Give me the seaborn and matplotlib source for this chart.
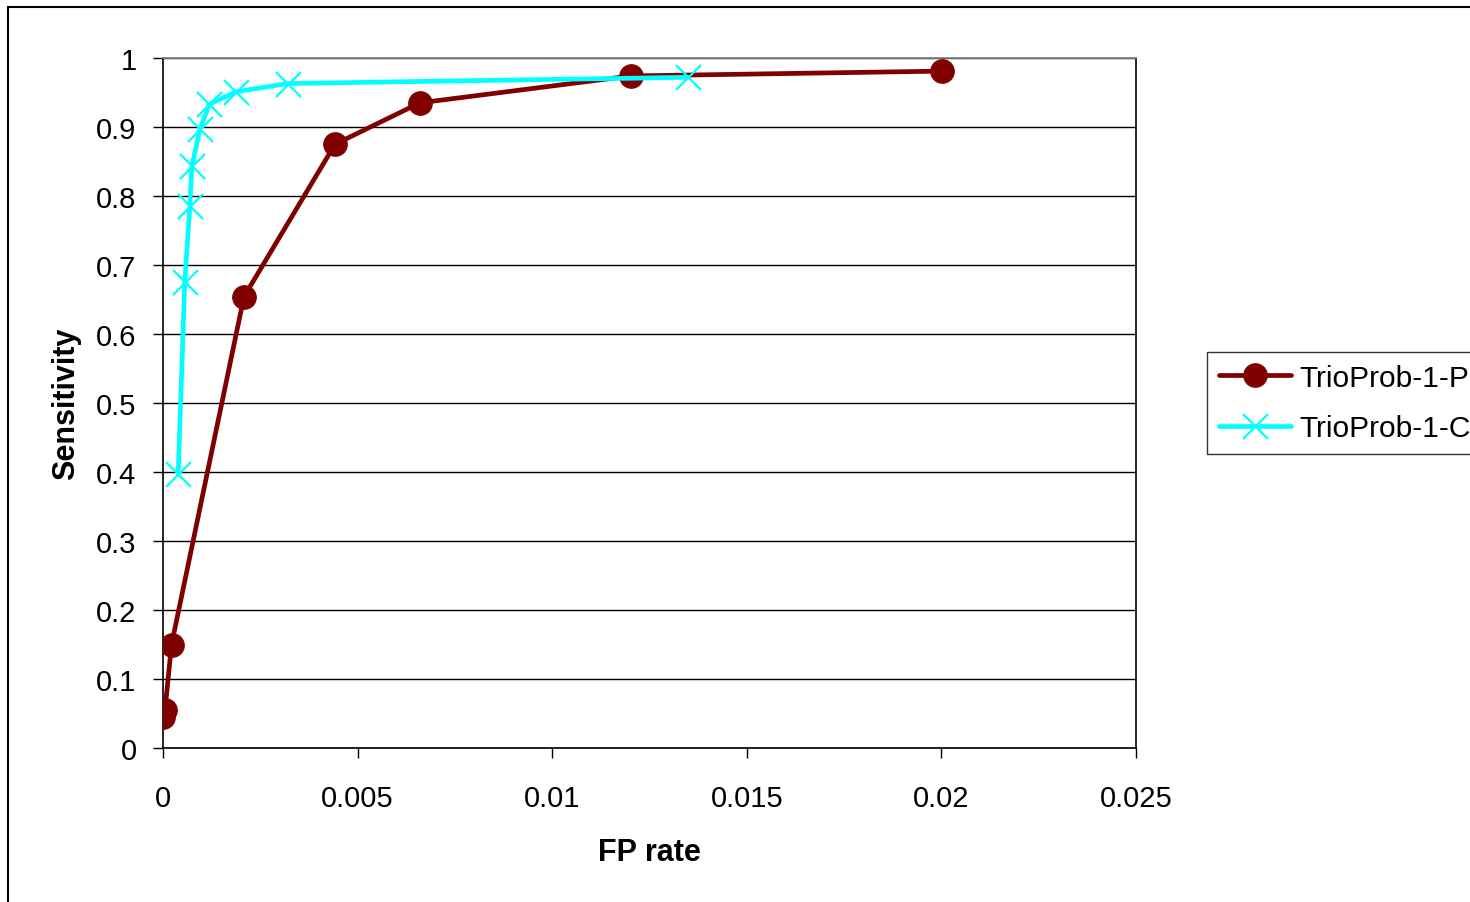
import matplotlib
matplotlib.use("Agg")
import matplotlib.pyplot as plt
import seaborn as sns
from matplotlib.patches import Rectangle
from matplotlib.ticker import FuncFormatter

# Dati (FP rate, Sensitivity)
fp_p = [0.0, 0.00005, 0.00022, 0.00208, 0.00442, 0.0066, 0.01202, 0.02001]
sens_p = [0.045, 0.055, 0.150, 0.654, 0.875, 0.935, 0.974, 0.981]

fp_c = [0.00039, 0.00056, 0.00069, 0.00074, 0.00095, 0.00119, 0.00188, 0.0032, 0.01349]
sens_c = [0.397, 0.676, 0.786, 0.843, 0.897, 0.933, 0.951, 0.963, 0.972]

labels = ["TrioProb-1-P", "TrioProb-1-C"]
colors = ["#800000", "#00FFFF"]
x_ticks = [0, 0.005, 0.01, 0.015, 0.02, 0.025]
y_ticks = [0, 0.1, 0.2, 0.3, 0.4, 0.5, 0.6, 0.7, 0.8, 0.9, 1.0]

sns.set_style("white")
plt.rcParams['font.family'] = ['Liberation Sans', 'DejaVu Sans']
plt.rcParams['text.color'] = 'black'
plt.rcParams['axes.labelcolor'] = 'black'
plt.rcParams['xtick.color'] = 'black'
plt.rcParams['ytick.color'] = 'black'

fig = plt.figure(figsize=(14.7, 9.03), dpi=100)
ax = fig.add_axes([163 / 1470, 1 - 749 / 903, (1136 - 163) / 1470, (749 - 59) / 903])

# Griglia orizzontale
for y in y_ticks:
    ax.axhline(y, color="black", lw=1.0, zorder=0)

sns.lineplot(x=fp_p, y=sens_p, sort=False, ax=ax, color=colors[0], lw=3.4,
             marker="o", markersize=17, markeredgecolor=colors[0],
             label=labels[0], zorder=3)
sns.lineplot(x=fp_c, y=sens_c, sort=False, ax=ax, color=colors[1], lw=3.4,
             marker="x", markersize=18, markeredgewidth=1.6, markeredgecolor=colors[1],
             label=labels[1], zorder=4)

ax.set_xlim(0, 0.025)
ax.set_ylim(0, 1)
ax.set_xticks(x_ticks)
ax.set_yticks(y_ticks)
fmt = FuncFormatter(lambda v, p: "%g" % round(v, 4))
ax.xaxis.set_major_formatter(fmt)
ax.yaxis.set_major_formatter(fmt)
ax.tick_params(axis="both", direction="out", length=7, width=1, color="black",
               labelcolor="black", labelsize=21, pad=12, left=True, bottom=True)
ax.tick_params(axis="x", pad=19)

for s in ax.spines.values():
    s.set_color("black")
    s.set_linewidth(1.2)
ax.spines["top"].set_color("#808080")

ax.set_xlabel("FP rate", fontsize=22, fontweight="bold", labelpad=18)
ax.set_ylabel("Sensitivity", fontsize=22, fontweight="bold", labelpad=11)

leg = ax.legend(loc="center left", bbox_to_anchor=(1207 / 1470, 1 - 404 / 903),
                bbox_transform=fig.transFigure, borderaxespad=0, fontsize=21.5,
                frameon=True, fancybox=False, edgecolor="black", handlelength=2.4,
                handletextpad=0.28, borderpad=0.4, labelspacing=0.75)
leg.get_frame().set_linewidth(1.0)

# Bordo esterno dell'area del grafico
fig.patches.append(Rectangle((8 / 1470, -0.1), 2, 1.1 - 8 / 903, transform=fig.transFigure,
                             fill=False, edgecolor="black", lw=1.5))

fig.savefig("out.png", dpi=100)
